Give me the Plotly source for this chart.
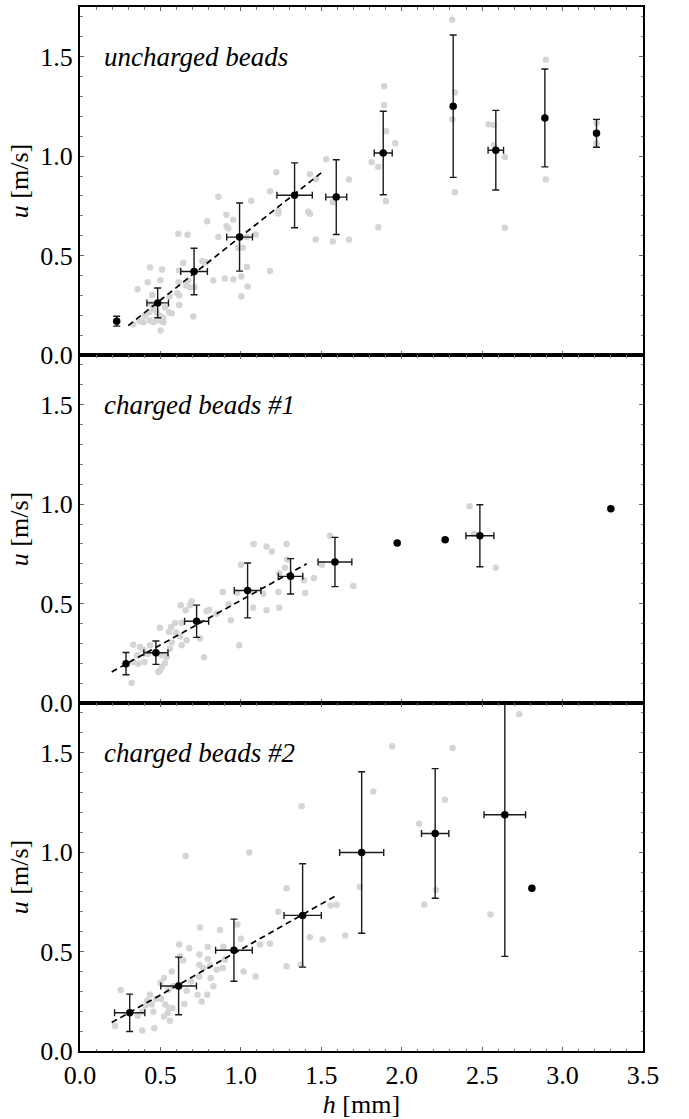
import numpy as np
import plotly.graph_objects as go
from plotly.subplots import make_subplots

# ---------------- data ----------------
panel_titles = ["uncharged beads", "charged beads #1", "charged beads #2"]

# panel 1 : uncharged beads
g1_h = [1.531, 1.220, 1.429, 1.467, 0.860, 1.065, 1.181, 1.233, 1.233, 1.419, 1.429, 1.571, 0.910, 0.953,
        0.791, 0.911, 0.922, 0.611, 0.669, 0.860, 1.036, 1.092, 1.011, 0.984, 1.465, 1.571, 0.642, 0.760,
        0.783, 0.435, 0.510, 0.615, 1.038, 1.181, 0.421, 0.499, 0.613, 0.673, 0.659, 0.684, 0.711, 0.829,
        0.901, 0.953, 1.003, 1.042, 1.003, 0.358, 0.605, 0.617, 0.449, 0.557, 0.617, 0.439, 0.456, 0.431,
        0.476, 0.497, 0.518, 0.555, 0.570, 0.528, 0.404, 0.394, 0.435, 0.456, 0.487, 0.518, 0.331, 0.704,
        0.501, 0.371,
        2.314, 2.331, 2.314, 2.331, 1.891, 1.891, 1.902, 1.960, 1.813, 1.854, 1.902, 1.854, 1.672, 1.672,
        2.540, 2.573, 2.573, 2.641, 2.641, 2.896, 2.896, 3.211, 3.211]
g1_u = [0.984, 0.919, 0.909, 0.884, 0.796, 0.776, 0.823, 0.725, 0.712, 0.720, 0.710, 0.768, 0.705, 0.680,
        0.672, 0.648, 0.638, 0.610, 0.605, 0.594, 0.594, 0.606, 0.539, 0.539, 0.581, 0.571, 0.463, 0.472,
        0.467, 0.440, 0.430, 0.425, 0.443, 0.422, 0.366, 0.376, 0.366, 0.375, 0.350, 0.341, 0.341, 0.375,
        0.385, 0.380, 0.395, 0.344, 0.294, 0.331, 0.311, 0.299, 0.302, 0.296, 0.252, 0.257, 0.232, 0.215,
        0.215, 0.198, 0.186, 0.214, 0.210, 0.240, 0.198, 0.165, 0.173, 0.165, 0.173, 0.165, 0.153, 0.193,
        0.123, 0.170,
        1.686, 1.320, 1.184, 0.818, 1.352, 1.256, 1.125, 1.065, 0.969, 0.946, 0.773, 0.643, 0.882, 0.581,
        1.161, 1.156, 1.055, 0.996, 0.640, 1.485, 0.882, 1.168, 1.063]
h1 = [0.228, 0.483, 0.709, 0.992, 1.334, 1.593, 1.885, 2.320, 2.585, 2.890, 3.211]
u1 = [0.170, 0.262, 0.420, 0.593, 0.803, 0.794, 1.016, 1.251, 1.030, 1.192, 1.115]
du1 = [0.025, 0.075, 0.117, 0.171, 0.163, 0.188, 0.210, 0.358, 0.200, 0.246, 0.070]
dh1 = [0.0, 0.067, 0.083, 0.080, 0.110, 0.065, 0.056, 0.0, 0.048, 0.0, 0.0]
fit1_h = [0.300, 1.506]
fit1_u = [0.148, 0.920]

# panel 2 : charged beads #1
g2_h = [1.554, 1.080, 1.160, 1.193, 1.284, 1.001, 1.288, 1.274, 1.239, 1.504, 1.392, 1.400, 1.454, 0.976,
        0.887, 1.139, 1.233, 0.924, 1.077, 1.160, 1.239, 0.938, 0.990, 0.626, 0.657, 0.694, 0.684, 0.804,
        0.787, 0.849, 0.632, 0.590, 0.566, 0.497, 0.553, 0.597, 0.622, 0.663, 0.632, 0.746, 0.570, 0.771,
        0.331, 0.373, 0.394, 0.435, 0.424, 0.356, 0.331, 0.362, 0.400, 0.508, 0.539, 0.559, 0.528, 0.497,
        0.487, 0.508, 0.321, 2.422, 2.449, 2.585, 1.699]
g2_u = [0.841, 0.799, 0.787, 0.762, 0.799, 0.695, 0.722, 0.680, 0.653, 0.695, 0.617, 0.553, 0.628, 0.555,
        0.558, 0.550, 0.558, 0.497, 0.479, 0.466, 0.479, 0.416, 0.290, 0.491, 0.466, 0.511, 0.491, 0.469,
        0.461, 0.449, 0.404, 0.402, 0.382, 0.379, 0.357, 0.354, 0.335, 0.315, 0.290, 0.324, 0.304, 0.230,
        0.293, 0.281, 0.268, 0.290, 0.248, 0.240, 0.206, 0.198, 0.206, 0.240, 0.231, 0.273, 0.201, 0.164,
        0.156, 0.181, 0.101, 0.990, 0.851, 0.680, 0.588]
h2 = [0.286, 0.472, 0.725, 1.042, 1.309, 1.585, 1.972, 2.270, 2.486, 3.300]
u2 = [0.198, 0.253, 0.411, 0.566, 0.637, 0.709, 0.804, 0.821, 0.841, 0.977]
du2 = [0.056, 0.059, 0.081, 0.138, 0.089, 0.124, 0.0, 0.0, 0.156, 0.0]
dh2 = [0.0, 0.075, 0.075, 0.083, 0.076, 0.105, 0.0, 0.0, 0.087, 0.0]
fit2_h = [0.197, 1.409]
fit2_u = [0.156, 0.700]

# panel 3 : charged beads #2
g3_h = [0.657, 1.052, 1.284, 1.233, 1.558, 1.595, 1.429, 1.508, 1.284, 1.371, 0.746, 0.870, 0.978, 1.000,
        1.119, 1.181, 1.017, 1.092, 0.617, 0.679, 0.794, 0.742, 0.794, 0.642, 0.891, 0.901, 0.850, 0.887,
        0.742, 0.766, 0.808, 0.812, 0.829, 0.740, 0.690, 0.663, 0.731, 0.756, 0.791, 0.522, 0.501, 0.622,
        0.570, 0.549, 0.580, 0.648, 0.435, 0.472, 0.446, 0.456, 0.530, 0.555, 0.574, 0.545, 0.522, 0.559,
        0.503, 0.253, 0.218, 0.387, 0.462, 0.358, 0.387, 0.408, 0.418,
        1.941, 2.316, 1.823, 2.268, 2.109, 1.740, 2.213, 2.140, 1.649, 2.552, 2.730, 1.378]
g3_u = [0.981, 0.998, 0.818, 0.700, 0.732, 0.736, 0.572, 0.561, 0.426, 0.434, 0.621, 0.609, 0.636, 0.564,
        0.535, 0.539, 0.400, 0.375, 0.535, 0.517, 0.524, 0.485, 0.463, 0.456, 0.524, 0.460, 0.409, 0.418,
        0.434, 0.418, 0.429, 0.367, 0.325, 0.375, 0.350, 0.303, 0.283, 0.249, 0.283, 0.367, 0.342, 0.476,
        0.400, 0.308, 0.325, 0.236, 0.283, 0.261, 0.234, 0.197, 0.234, 0.216, 0.216, 0.190, 0.173, 0.152,
        0.263, 0.307, 0.126, 0.103, 0.115, 0.177, 0.197, 0.229, 0.253,
        1.532, 1.524, 1.305, 1.263, 1.143, 0.825, 0.810, 0.737, 0.581, 0.687, 1.693, 1.231]
h3 = [0.309, 0.613, 0.957, 1.384, 1.751, 2.208, 2.641, 2.809]
u3 = [0.192, 0.327, 0.507, 0.682, 0.998, 1.094, 1.188, 0.818]
du3 = [0.094, 0.145, 0.156, 0.260, 0.406, 0.326, 0.712, 0.0]
dh3 = [0.094, 0.111, 0.114, 0.116, 0.137, 0.085, 0.129, 0.0]
fit3_h = [0.197, 1.591]
fit3_u = [0.143, 0.781]

x_ticks = [0.0, 0.5, 1.0, 1.5, 2.0, 2.5, 3.0, 3.5]
y_ticks = [0.0, 0.5, 1.0, 1.5]

# ---------------- figure ----------------
FONT = "Liberation Serif"
fig = make_subplots(rows=3, cols=1, shared_xaxes=True, vertical_spacing=0)

panels = [
    (g1_h, g1_u, h1, u1, du1, dh1, fit1_h, fit1_u),
    (g2_h, g2_u, h2, u2, du2, dh2, fit2_h, fit2_u),
    (g3_h, g3_u, h3, u3, du3, dh3, fit3_h, fit3_u),
]

for i, (gh, gu, h, u, du, dh, fh, fu) in enumerate(panels, start=1):
    h = np.array(h); u = np.array(u); du = np.array(du); dh = np.array(dh)
    fig.add_trace(go.Scatter(x=gh, y=gu, mode="markers",
                             marker=dict(size=6.5, color="#d5d5d5"),
                             hoverinfo="skip"), row=i, col=1)
    fig.add_trace(go.Scatter(x=fh, y=fu, mode="lines",
                             line=dict(color="black", width=1.7, dash="6px,4px")),
                  row=i, col=1)
    m = du > 0
    fig.add_trace(go.Scatter(x=h[m], y=u[m], mode="markers",
                             marker=dict(size=2, opacity=0),
                             error_y=dict(type="data", array=du[m], color="#1a1a1a",
                                          thickness=1.4, width=3.5)),
                  row=i, col=1)
    m = dh > 0
    fig.add_trace(go.Scatter(x=h[m], y=u[m], mode="markers",
                             marker=dict(size=2, opacity=0),
                             error_x=dict(type="data", array=dh[m], color="#1a1a1a",
                                          thickness=1.4, width=3.5)),
                  row=i, col=1)
    fig.add_trace(go.Scatter(x=h, y=u, mode="markers",
                             marker=dict(size=7.5, color="black")),
                  row=i, col=1)
    fig.add_annotation(x=0.135, y=1.5, xref=f"x{i if i > 1 else ''}", yref=f"y{i if i > 1 else ''}",
                       text=panel_titles[i-1], showarrow=False,
                       xanchor="left", yanchor="middle",
                       font=dict(family=FONT, size=27, color="black", style="italic"))

axis_common = dict(showline=True, linewidth=2, linecolor="black", mirror="allticks",
                   ticks="inside", ticklen=4, tickwidth=1, tickcolor="#666",
                   showgrid=False, zeroline=False,
                   tickfont=dict(family=FONT, size=26, color="black"))

for i in range(1, 4):
    fig.update_xaxes(range=[0, 3.5], tickvals=x_ticks, ticktext=[f"{v:.1f}" for v in x_ticks],
                     minor=dict(dtick=0.1, tick0=0, ticks="inside", ticklen=2.5,
                                tickcolor="#777", showgrid=False),
                     showticklabels=(i == 3), row=i, col=1, **axis_common)
    fig.update_yaxes(range=[0, 1.75], tickvals=y_ticks, ticktext=[f"{v:.1f}" for v in y_ticks],
                     minor=dict(dtick=0.1, tick0=0, ticks="inside", ticklen=2.5,
                                tickcolor="#777", showgrid=False),
                     title=dict(text="<i>u</i> [m/s]", font=dict(family=FONT, size=26, color="black"),
                                standoff=4),
                     row=i, col=1, **axis_common)

fig.update_xaxes(title=dict(text="<i>h</i> [mm]", font=dict(family=FONT, size=26, color="black"),
                            standoff=4), row=3, col=1)

fig.update_layout(width=689, height=1119, margin=dict(l=80, r=46, t=5, b=68),
                  plot_bgcolor="white", paper_bgcolor="white", showlegend=False,
                  font=dict(family=FONT, color="black"))

fig.write_html("out.html")
